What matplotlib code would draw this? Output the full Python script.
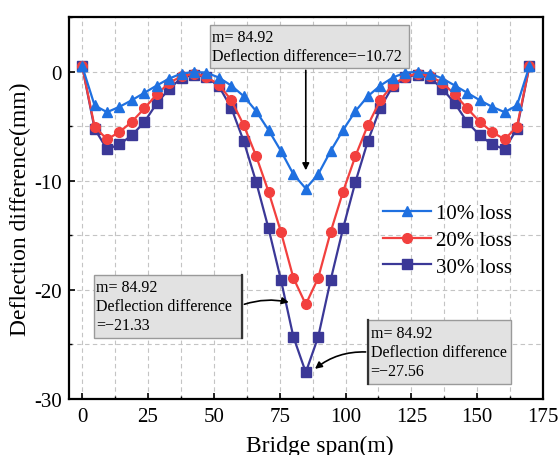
import numpy as np
import matplotlib
matplotlib.use('Agg')
import matplotlib.pyplot as plt
from matplotlib.patches import Rectangle
from matplotlib.ticker import MultipleLocator

plt.rcParams['font.family'] = ['Liberation Serif', 'DejaVu Serif']
plt.rcParams['axes.unicode_minus'] = False

# bridge span positions (m)
span = [0, 4.72, 9.44, 14.15, 18.87, 23.59, 28.31, 33.03, 37.74, 42.46, 47.18, 51.90,
        56.61, 61.33, 66.05, 70.77, 75.49, 80.20, 84.92, 89.64, 94.36, 99.07, 103.79,
        108.51, 113.23, 117.95, 122.66, 127.38, 132.10, 136.82, 141.53, 146.25, 150.97,
        155.69, 160.41, 165.12, 169.84]

loss10 = [0.5, -3.1, -3.72, -3.23, -2.62, -1.95, -1.28, -0.64, -0.18, -0.03, -0.1, -0.55,
          -1.28, -2.25, -3.62, -5.36, -7.28, -9.4, -10.72, -9.4, -7.28, -5.36, -3.62,
          -2.25, -1.28, -0.55, -0.1, -0.03, -0.18, -0.64, -1.28, -1.95, -2.62, -3.23,
          -3.72, -3.1, 0.5]
loss20 = [0.5, -5.05, -6.21, -5.54, -4.6, -3.38, -2.1, -1.03, -0.43, -0.18, -0.49, -1.19,
          -2.62, -4.9, -7.73, -11.0, -14.7, -18.9, -21.33, -18.9, -14.7, -11.0, -7.73,
          -4.9, -2.62, -1.19, -0.49, -0.18, -0.43, -1.03, -2.1, -3.38, -4.6, -5.54,
          -6.21, -5.05, 0.5]
loss30 = [0.5, -5.24, -7.12, -6.67, -5.84, -4.63, -2.92, -1.58, -0.58, -0.27, -0.52, -1.34,
          -3.32, -6.36, -10.1, -14.37, -19.1, -24.3, -27.56, -24.3, -19.1, -14.37, -10.1,
          -6.36, -3.32, -1.34, -0.52, -0.27, -0.58, -1.58, -2.92, -4.63, -5.84, -6.67,
          -7.12, -5.24, 0.5]

fig = plt.figure(figsize=(5.58, 4.56), dpi=100)
ax = fig.add_axes([69/558, 1-400/456, 474/558, 382/456])

ax.plot(span, loss30, color='#3B3897', lw=1.6, marker='s', ms=6.5, label='30% loss', zorder=3)
ax.plot(span, loss20, color='#F2403E', lw=1.6, marker='o', ms=7, label='20% loss', zorder=4)
ax.plot(span, loss10, color='#1F70E0', lw=1.6, marker='^', ms=7.5, label='10% loss', zorder=5)

ax.set_xlim(-5, 175)
ax.set_ylim(-30, 5)
ax.xaxis.set_major_locator(MultipleLocator(25))
ax.xaxis.set_minor_locator(MultipleLocator(12.5))
ax.yaxis.set_major_locator(MultipleLocator(10))
ax.yaxis.set_minor_locator(MultipleLocator(5))
ax.grid(True, which='both', color='#c4c4c4', ls=(0, (4, 3)), lw=0.8, zorder=0)
ax.tick_params(which='both', direction='in', top=False, right=False, labelsize=15)
ax.tick_params(which='major', length=4, width=1.2)
ax.tick_params(which='minor', length=2.5, width=1)
ax.tick_params(axis='x', pad=6)
ax.tick_params(axis='y', pad=5)
for s in ax.spines.values():
    s.set_linewidth(1.6)

ax.set_xlabel('Bridge span(m)', fontsize=17, labelpad=12)
ax.xaxis.set_label_coords(0.53, -0.095)
ax.set_ylabel('Deflection difference(mm)', fontsize=17, labelpad=2)

h, l = ax.get_legend_handles_labels()
ax.legend(h[::-1], l[::-1], loc='upper left', bbox_to_anchor=(0.663, 0.512), frameon=False,
          fontsize=15, handlelength=2.3, handletextpad=0.25, labelspacing=0.35,
          borderpad=0, borderaxespad=0)

# annotation boxes
def note(x0, y0, w, h, txt, dark=None):
    ax.add_patch(Rectangle((x0, y0), w, h, fc='#e2e2e2', ec='#9a9a9a', lw=1, zorder=6))
    if dark is not None:
        ax.plot([dark, dark], [y0, y0 + h], color='#333333', lw=1.6, zorder=7)
    ax.text(x0 + 0.8, y0 + h - 0.4, txt, fontsize=11.5, va='top', ha='left',
            linespacing=1.25, zorder=7)

note(48.5, 0.37, 75.5, 3.92, 'm= 84.92\nDeflection difference=\u221210.72')
note(4.5, -24.4, 56.1, 5.8, 'm= 84.92\nDeflection difference\n=\u221221.33', dark=60.6)
note(108.7, -28.6, 54.2, 5.8, 'm= 84.92\nDeflection difference\n=\u221227.56', dark=108.7)

ax.annotate('', xy=(84.92, -9.3), xytext=(84.92, 0.37),
            arrowprops=dict(arrowstyle='-|>', color='k', lw=1.2, mutation_scale=10), zorder=8)
ax.annotate('', xy=(79.5, -21.2), xytext=(60.6, -21.4),
            arrowprops=dict(arrowstyle='-|>', color='k', lw=1.2, mutation_scale=10,
                            connectionstyle='arc3,rad=-0.15'), zorder=8)
ax.annotate('', xy=(87.6, -27.4), xytext=(108.7, -25.7),
            arrowprops=dict(arrowstyle='-|>', color='k', lw=1.2, mutation_scale=10,
                            connectionstyle='arc3,rad=0.2'), zorder=8)

fig.savefig('out.png', dpi=100)
